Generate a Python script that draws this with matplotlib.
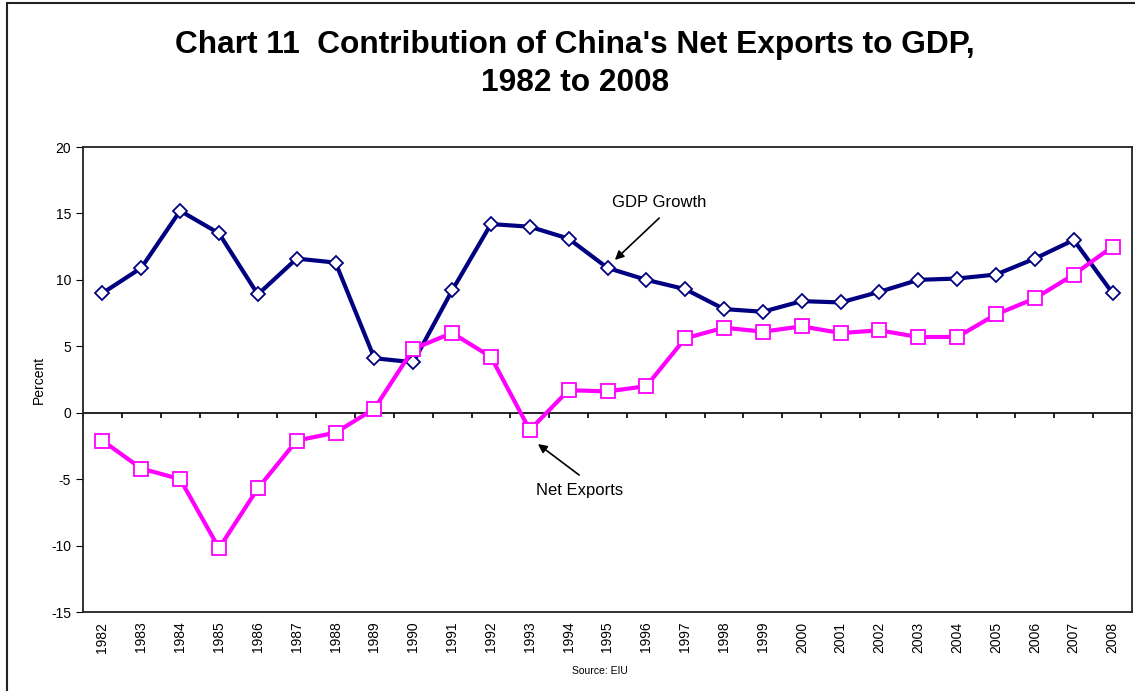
import numpy as np
import matplotlib.pyplot as plt
from matplotlib.patches import Rectangle

plt.rcParams['font.family'] = ['Liberation Sans', 'DejaVu Sans']
plt.rcParams['axes.unicode_minus'] = False

years = [str(y) for y in range(1982, 2009)]
gdp_growth = [9.0, 10.9, 15.2, 13.5, 8.9, 11.6, 11.3, 4.1, 3.8, 9.2,
              14.2, 14.0, 13.1, 10.9, 10.0, 9.3, 7.8, 7.6, 8.4, 8.3,
              9.1, 10.0, 10.1, 10.4, 11.6, 13.0, 9.0]
net_exports = [-2.1, -4.2, -5.0, -10.2, -5.7, -2.1, -1.5, 0.3, 4.8, 6.0,
               4.2, -1.3, 1.7, 1.6, 2.0, 5.6, 6.4, 6.1, 6.5, 6.0,
               6.2, 5.7, 5.7, 7.4, 8.6, 10.4, 12.5]

x = np.arange(len(years))

fig = plt.figure(figsize=(11.35, 6.91), dpi=100)
ax = fig.add_axes([83/1135, 1-612/691, (1132-83)/1135, (612-147)/691])

# outer frame of the chart
fig.patches.append(Rectangle((7/1135, -0.05), 1.2, 1-3/691+0.05, transform=fig.transFigure,
                             fill=False, edgecolor='#222222', lw=1.5))

ax.plot(x, gdp_growth, color='#000080', lw=3, marker='D', ms=7,
        mfc='white', mec='#000080', mew=1.3, zorder=3)
ax.plot(x, net_exports, color='#FF00FF', lw=3, marker='s', ms=10,
        mfc='white', mec='#FF00FF', mew=1.3, zorder=3)

ax.set_xlim(-0.5, len(years) - 0.5)
ax.set_ylim(-15, 20)
ax.set_yticks(np.arange(-15, 21, 5))
ax.set_xticks(x)
ax.set_xticklabels(years, rotation=90, fontsize=10)
ax.tick_params(axis='x', length=0, pad=7)
ax.tick_params(axis='y', length=5, labelsize=10, direction='out')
for s in ax.spines.values():
    s.set_linewidth(1.3)
    s.set_color('#222222')

# category axis crossing at zero
ax.axhline(0, color='black', lw=1.2, zorder=2)
ax.vlines(np.arange(len(years) + 1) - 0.5, -0.38, 0, color='black', lw=1.2, zorder=2)

ax.set_ylabel('Percent', fontsize=10, labelpad=4)

arrow = dict(arrowstyle='-|>', color='black', lw=1.2, shrinkA=0, shrinkB=0, mutation_scale=13)
ax.annotate('', xy=(13.19, 11.5), xytext=(14.33, 14.65), arrowprops=arrow)
ax.text(14.33, 15.85, 'GDP Growth', ha='center', va='center', fontsize=12)
ax.annotate('', xy=(11.21, -2.36), xytext=(12.27, -4.69), arrowprops=arrow)
ax.text(12.27, -5.85, 'Net Exports', ha='center', va='center', fontsize=12)

fig.text(575/1135, 1-64/691, "Chart 11  Contribution of China's Net Exports to GDP,\n1982 to 2008",
         ha='center', va='center', fontsize=22.8, fontweight='bold', linespacing=1.32)
fig.text(600/1135, 1-671/691, 'Source: EIU', ha='center', va='center', fontsize=7.5)

fig.savefig('out.png', dpi=100)
